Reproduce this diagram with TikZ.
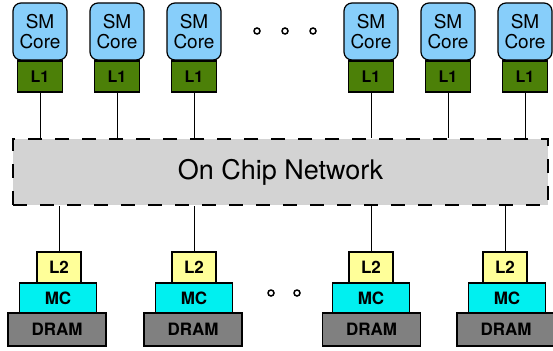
\documentclass[tikz,border=0pt]{standalone}
\usepackage{fontspec}
\setmainfont{TeX Gyre Heros}
\usepackage{xcolor}
\usepackage{tikz}
\usetikzlibrary{calc}
\definecolor{corefill}{RGB}{135,206,250}
\definecolor{lonefill}{RGB}{76,128,8}
\definecolor{ltwofill}{RGB}{255,255,153}
\definecolor{mcfill}{RGB}{0,240,240}
\definecolor{dramfill}{RGB}{128,128,128}
\definecolor{nocfill}{RGB}{211,211,211}
\tikzset{
	smcore/.style={draw,fill=corefill,line width=1.2pt,rounded corners=8pt,
			minimum width=54pt,minimum height=57pt,inner sep=0pt,align=center,
			font=\fontsize{19}{20.5}\selectfont},
	lone/.style={draw,fill=lonefill,line width=1.2pt,minimum width=45pt,
			minimum height=31pt,inner sep=0pt,font=\fontsize{16}{17}\selectfont\bfseries},
	ltwo/.style={draw,fill=ltwofill,line width=1.2pt,minimum width=44pt,
			minimum height=31pt,inner sep=0pt,font=\fontsize{17}{18}\selectfont\bfseries},
	mcbox/.style={draw,fill=mcfill,line width=1.2pt,minimum width=77pt,
			minimum height=30pt,inner sep=0pt,font=\fontsize{17}{18}\selectfont\bfseries},
	drambox/.style={draw,fill=dramfill,line width=1.2pt,minimum width=98pt,
			minimum height=33pt,inner sep=0pt,font=\fontsize{17}{18}\selectfont\bfseries},
	noc/.style={draw,fill=nocfill,line width=2.4pt,dash pattern=on 14pt off 13pt,
			minimum width=535pt,minimum height=66pt,inner sep=0pt,
			font=\fontsize{27}{29}\selectfont},
	dotc/.style={circle,draw,line width=1.5pt,minimum size=6pt,inner sep=0pt},
	wire/.style={line width=0.8pt}
}

\begin{document}
\begin{tikzpicture}[x=1pt,y=-1pt]
		\useasboundingbox (0,0) rectangle (553,350);

		% SM cores
		\node[smcore] (c1) at (40,31.5) {SM\\Core};
		\node[smcore] (c2) at (117,31.5) {SM\\Core};
		\node[smcore] (c3) at (194,31.5) {SM\\Core};
		\node[smcore] (c4) at (371,31.5) {SM\\Core};
		\node[smcore] (c5) at (448,31.5) {SM\\Core};
		\node[smcore] (c6) at (525,31.5) {SM\\Core};

		% private L1 caches
		\node[lone] (a1) at (40,76.5) {L1};
		\node[lone] (a2) at (117,76.5) {L1};
		\node[lone] (a3) at (194,76.5) {L1};
		\node[lone] (a4) at (371,76.5) {L1};
		\node[lone] (a5) at (448,76.5) {L1};
		\node[lone] (a6) at (525,76.5) {L1};

		\node[dotc] (d1) at (257,31) {};
		\node[dotc] (d2) at (285,31) {};
		\node[dotc] (d3) at (313,31) {};

		% interconnect
		\node[noc] (net) at (280.5,172) {On Chip Network};

		% memory partitions
		\node[ltwo] (b1) at (59,267.5) {L2};
		\node[ltwo] (b2) at (194,267.5) {L2};
		\node[ltwo] (b3) at (371,267.5) {L2};
		\node[ltwo] (b4) at (505,267.5) {L2};

		\node[mcbox] (m1) at (58,298) {MC};
		\node[mcbox] (m2) at (194,298) {MC};
		\node[mcbox] (m3) at (371,298) {MC};
		\node[mcbox] (m4) at (507,298) {MC};

		\node[drambox] (r1) at (57,329.5) {DRAM};
		\node[drambox] (r2) at (193,329.5) {DRAM};
		\node[drambox] (r3) at (371.5,329.5) {DRAM};
		\node[drambox] (r4) at (506,329.5) {DRAM};

		\node[dotc] (d4) at (271,293) {};
		\node[dotc] (d5) at (297,293) {};

		\draw[wire] (a1.south) -- (a1.south |- net.north);
		\draw[wire] (a2.south) -- (a2.south |- net.north);
		\draw[wire] (a3.south) -- (a3.south |- net.north);
		\draw[wire] (a4.south) -- (a4.south |- net.north);
		\draw[wire] (a5.south) -- (a5.south |- net.north);
		\draw[wire] (a6.south) -- (a6.south |- net.north);

		\draw[wire] (b1.north |- net.south) -- (b1.north);
		\draw[wire] (b2.north |- net.south) -- (b2.north);
		\draw[wire] (b3.north |- net.south) -- (b3.north);
		\draw[wire] (b4.north |- net.south) -- (b4.north);
	\end{tikzpicture}
\end{document}
